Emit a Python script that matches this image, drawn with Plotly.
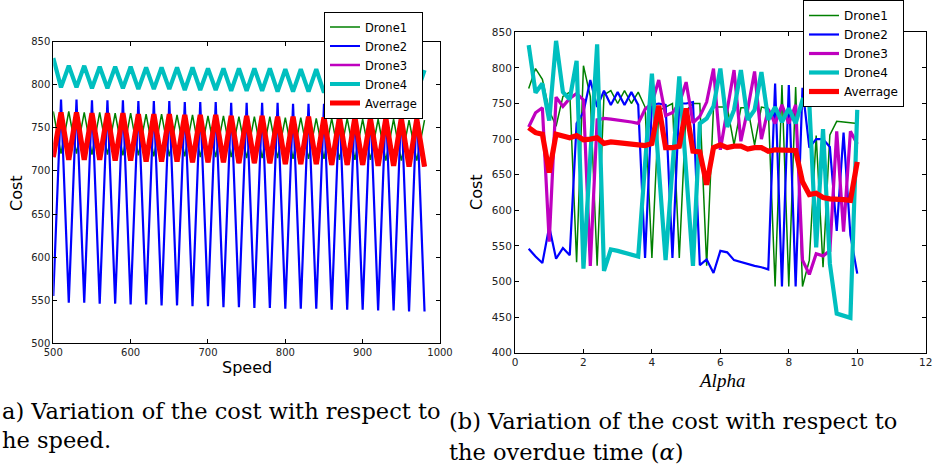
import plotly.graph_objects as go

# ---------------- Panel (a): cost vs speed ----------------
speed = [500, 510, 520, 530, 540, 550, 560, 570, 580, 590, 600, 610, 620, 630, 640, 650, 660, 670, 680, 690,
         700, 710, 720, 730, 740, 750, 760, 770, 780, 790, 800, 810, 820, 830, 840, 850, 860, 870, 880, 890,
         900, 910, 920, 930, 940, 950, 960, 970, 980]

speed_drone1 = [769, 720, 769, 720, 768, 719, 768, 719, 767, 718, 767, 718, 766, 717, 766, 717, 765, 717, 765, 716,
                764, 716, 764, 716, 763, 715, 763, 715, 763, 715, 762, 714, 762, 714, 761, 714, 761, 713, 761, 713,
                760, 713, 760, 712, 760, 712, 759, 712, 759]
speed_drone2 = [555, 783, 547, 783, 547, 782, 546, 782, 546, 782, 545, 781, 545, 781, 544, 781, 544, 780, 543, 780,
                543, 780, 542, 779, 542, 779, 541, 779, 541, 779, 540, 778, 540, 778, 540, 778, 539, 778, 539, 777,
                539, 777, 538, 777, 538, 777, 537, 777, 537]
speed_drone3 = [716, 768, 713, 768, 713, 767, 713, 767, 712, 767, 712, 766, 711, 766, 711, 766, 711, 765, 710, 765,
                710, 765, 710, 764, 709, 764, 709, 764, 709, 763, 708, 763, 708, 763, 708, 762, 707, 762, 707, 762,
                707, 761, 706, 761, 706, 761, 705, 760, 705]
speed_drone4 = [831, 797, 822, 797, 822, 796, 821, 796, 821, 796, 821, 795, 820, 795, 820, 795, 820, 794, 820, 794,
                819, 794, 819, 793, 819, 793, 819, 793, 819, 792, 818, 792, 818, 792, 818, 791, 818, 791, 818, 791,
                818, 790, 817, 790, 817, 790, 817, 790, 817]
speed_average = [716, 768, 713, 768, 713, 767, 713, 767, 712, 767, 712, 766, 711, 766, 711, 766, 711, 765, 710, 765,
                 710, 765, 710, 764, 709, 764, 709, 764, 709, 763, 708, 763, 708, 763, 708, 762, 707, 762, 707, 762,
                 707, 761, 706, 761, 706, 761, 705, 760, 705]

# ---------------- Panel (b): cost vs alpha ----------------
alpha = [0.4, 0.6, 0.8, 1.0, 1.2, 1.4, 1.6, 1.8, 2.0, 2.2, 2.4, 2.6, 2.8, 3.0, 3.2, 3.4, 3.6, 3.8, 4.0, 4.2,
         4.4, 4.6, 4.8, 5.0, 5.2, 5.4, 5.6, 5.8, 6.0, 6.2, 6.4, 6.6, 6.8, 7.0, 7.2, 7.4, 7.6, 7.8, 8.0, 8.2,
         8.4, 8.6, 8.8, 9.0, 9.2, 9.4, 9.6, 9.8, 10.0]

alpha_drone1 = [771, 799, 784, 740, 718, 760, 766, 527, 803, 760, 522, 762, 768, 750, 768, 750, 766, 745, 533, 740,
                745, 750, 533, 740, 750, 750, 522, 745, 745, 745, 692, 744, 744, 692, 745, 743, 493, 776, 493, 773,
                493, 530, 705, 520, 706, 725, 724, 723, 722]
alpha_drone2 = [546, 535, 526, 577, 532, 547, 537, 722, 738, 783, 745, 768, 748, 766, 748, 766, 748, 533, 748, 750,
                748, 533, 750, 750, 752, 523, 531, 512, 543, 541, 530, 527, 525, 522, 520, 517, 778, 493, 776, 493,
                772, 688, 700, 700, 689, 571, 709, 565, 511]
alpha_drone3 = [717, 737, 744, 556, 759, 746, 757, 764, 755, 522, 727, 729, 728, 727, 726, 724, 722, 742, 750, 783,
                733, 737, 750, 780, 723, 732, 752, 799, 685, 741, 797, 697, 742, 795, 700, 742, 722, 748, 722, 748,
                530, 510, 539, 536, 543, 711, 570, 711, 693]
alpha_drone4 = [832, 765, 778, 726, 838, 766, 756, 810, 518, 680, 833, 515, 545, 543, 540, 538, 535, 665, 792, 660,
                530, 660, 788, 655, 522, 722, 729, 746, 799, 717, 741, 797, 727, 741, 794, 727, 745, 724, 743, 722,
                755, 750, 548, 714, 525, 455, 452, 449, 741]
alpha_average = [716, 709, 707, 653, 707, 704, 702, 705, 699, 700, 702, 694, 696, 695, 694, 693, 691, 691, 694, 747,
                 688, 688, 690, 743, 683, 682, 636, 688, 692, 688, 690, 690, 686, 688, 688, 683, 685, 685, 684, 684,
                 640, 622, 624, 618, 616, 616, 615, 614, 668]

series_names = ["Drone1", "Drone2", "Drone3", "Drone4", "Averrage"]
series_colors = ["#008000", "#0000ff", "#bf00bf", "#00bfbf", "#ff0000"]
left_widths = [1.5, 2.2, 2.5, 4.2, 5.2]
right_widths = [1.5, 2.2, 3.2, 4.2, 5.2]

W, H = 933, 467
fig = go.Figure()

left_series = [speed_drone1, speed_drone2, speed_drone3, speed_drone4, speed_average]
for name, ys, col, w in zip(series_names, left_series, series_colors, left_widths):
    fig.add_trace(go.Scatter(x=speed, y=ys, mode="lines", name=name,
                             line=dict(color=col, width=w),
                             xaxis="x", yaxis="y", legend="legend"))

right_series = [alpha_drone1, alpha_drone2, alpha_drone3, alpha_drone4, alpha_average]
for name, ys, col, w in zip(series_names, right_series, series_colors, right_widths):
    fig.add_trace(go.Scatter(x=alpha, y=ys, mode="lines", name=name,
                             line=dict(color=col, width=w),
                             xaxis="x2", yaxis="y2", legend="legend2"))


def ax(**kw):
    base = dict(showline=True, linecolor="black", linewidth=1, mirror="ticks",
                ticks="inside", ticklen=4, tickcolor="black", tickwidth=1,
                showgrid=False, zeroline=False, automargin=False,
                tickfont=dict(family="DejaVu Sans", size=10, color="#222"))
    base.update(kw)
    return base


def legend_style(size):
    return dict(bgcolor="white", bordercolor="black", borderwidth=1,
                font=dict(family="DejaVu Sans", size=size, color="black"),
                tracegroupgap=0, itemwidth=30)


fig.update_layout(
    width=W, height=H, autosize=False,
    margin=dict(l=0, r=0, t=0, b=0, autoexpand=False),
    paper_bgcolor="white", plot_bgcolor="white",
    xaxis=ax(domain=[53.3 / W, 440 / W], range=[500, 1000], dtick=100, tick0=500, anchor="y"),
    yaxis=ax(domain=[1 - 343.3 / H, 1 - 41.7 / H], range=[500, 850], dtick=50, tick0=500, anchor="x"),
    xaxis2=ax(domain=[515 / W, 925.7 / W], range=[0, 12], dtick=2, tick0=0, anchor="y2",
              tickfont=dict(family="DejaVu Sans", size=10.5, color="#222")),
    yaxis2=ax(domain=[1 - 352.7 / H, 1 - 32.3 / H], range=[400, 850], dtick=50, tick0=400, anchor="x2",
              tickfont=dict(family="DejaVu Sans", size=10.5, color="#222")),
    legend=dict(x=324 / W, y=1 - 11.5 / H, xanchor="left", yanchor="top", **legend_style(11.5)),
    legend2=dict(x=803 / W, y=1.0, xanchor="left", yanchor="top", **legend_style(12)),
    showlegend=True,
)

annotations = [
    dict(text="Cost", x=16 / W, y=1 - 193 / H, textangle=-90,
         font=dict(family="DejaVu Sans", size=16, color="black")),
    dict(text="Speed", x=247 / W, y=1 - 367 / H,
         font=dict(family="DejaVu Sans", size=16, color="black")),
    dict(text="Cost", x=476 / W, y=1 - 192 / H, textangle=-90,
         font=dict(family="DejaVu Sans", size=16, color="black")),
    dict(text="<i>Alpha</i>", x=721 / W, y=1 - 380 / H,
         font=dict(family="Liberation Serif", size=19, color="black")),
]
cap_font = dict(family="DejaVu Serif", size=22.5, color="black")
captions = [
    ("a) Variation of the cost with respect to", 0, 411),
    ("he speed.", 0, 440),
    ("(b) Variation of the cost with respect to", 447, 421),
    ("the overdue time (<i>α</i>)", 447, 452),
]
for txt, xp, yp in captions:
    annotations.append(dict(text=txt, x=xp / W, y=1 - yp / H, xanchor="left", font=cap_font))

for a in annotations:
    a.setdefault("xanchor", "center")
    a.update(xref="paper", yref="paper", yanchor="middle", showarrow=False)
fig.update_layout(annotations=annotations)

fig.write_html("out.html", config={"displayModeBar": False},
               post_script=["document.body.style.margin='0px';document.body.style.overflow='hidden';"])
